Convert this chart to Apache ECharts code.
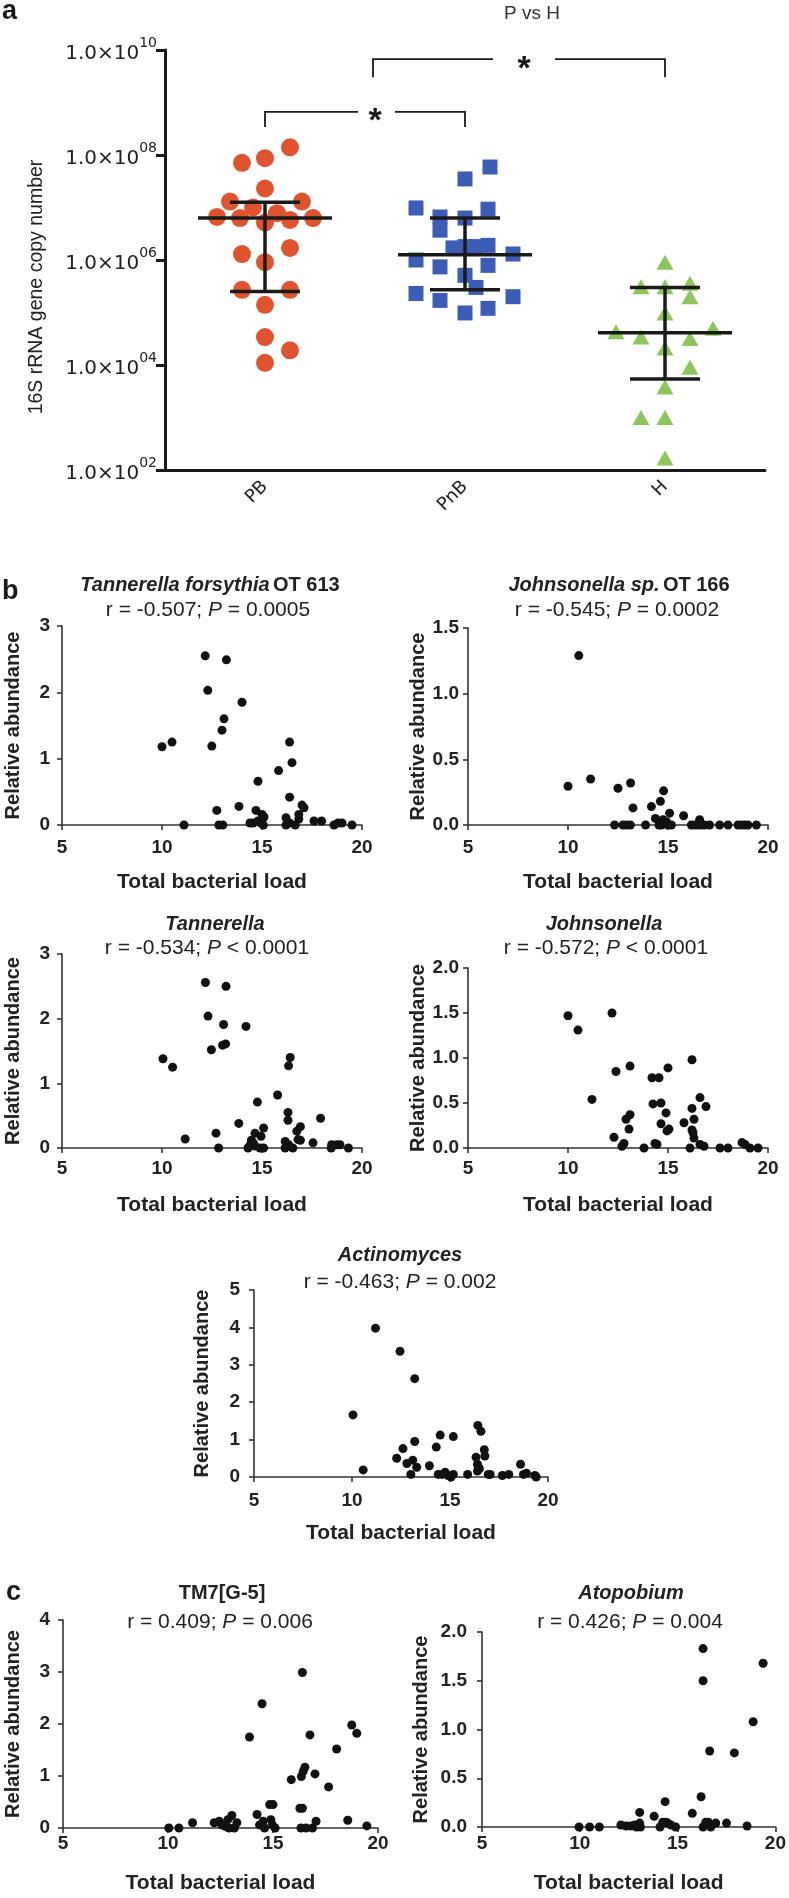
<!DOCTYPE html>
<html><head><meta charset="utf-8">
<script src="https://cdn.jsdelivr.net/npm/echarts@6/dist/echarts.min.js"></script>
<style>html,body{margin:0;padding:0;background:#fff}#c{width:789px;height:1898px}</style>
</head><body><div id="c"></div>
<script>
// ---------- Panel a data (x = position within category band, y = 16S copies) ----------
const groupNames = ['PB', 'PnB', 'H'];
const pbPoints = [[0.625,1.4e8],[0.5,8.7e7],[0.385,7.1e7],[0.5,2.3e7],[0.325,1.3e7],[0.685,1.3e7],[0.44,1.0e7],[0.26,6.6e6],[0.375,6.3e6],[0.5,5.2e6],[0.56,7.8e6],[0.625,5.8e6],[0.74,6.3e6],[0.385,1.3e6],[0.625,1.7e6],[0.5,9.1e5],[0.385,2.7e5],[0.625,2.7e5],[0.5,1.4e5],[0.5,3.4e4],[0.625,1.9e4],[0.5,1.1e4]];
const pnbPoints = [[1.625,5.9e7],[1.5,3.5e7],[1.255,9.8e6],[1.375,6.6e6],[1.5,6.3e6],[1.615,9.3e6],[1.375,3.7e6],[1.44,1.7e6],[1.5,1.8e6],[1.55,1.8e6],[1.615,1.9e6],[1.255,1.0e6],[1.375,7.4e5],[1.615,7.9e5],[1.74,1.3e6],[1.5,5.1e5],[1.555,3.0e5],[1.255,2.3e5],[1.375,1.7e5],[1.74,2.0e5],[1.5,9.8e4],[1.615,1.2e5]];
const hPoints = [[2.5,9.1e5],[2.38,3.1e5],[2.5,3.1e5],[2.625,3.6e5],[2.625,2.0e5],[2.5,9.8e4],[2.255,4.3e4],[2.38,3.4e4],[2.625,3.2e4],[2.74,5.0e4],[2.5,2.1e4],[2.625,9.1e3],[2.5,3.8e3],[2.38,1.0e3],[2.5,1.0e3],[2.5,1.7e2]];
const groupMedian = [6.3e6, 1.26e6, 4.1e4];
const groupQ1 = [2.5e5, 2.7e5, 5.4e3];
const groupQ3 = [1.26e7, 6.3e6, 3.0e5];
const yExponents = [2, 4, 6, 8, 10];
// [from, to, level, star position]
const comparisons = [[0.5, 1.5, 6.6e8, 1.05], [1.04, 2.5, 6.7e9, 1.795]];

// ---------- Panels b, c data: [total bacterial load, relative abundance] ----------
const tannerellaForsythia = [[10.0,1.18],[10.5,1.25],[11.1,0],[12.16,2.55],[12.29,2.03],[12.49,1.19],[12.74,0.22],[12.84,0],[13.04,0],[13.22,2.49],[13.1,1.60],[13.0,1.43],[14.0,1.85],[13.85,0.28],[14.7,0.22],[14.8,0.66],[14.4,0.03],[14.55,0.03],[14.8,0.06],[15.0,0.16],[15.1,0.12],[15.07,0],[14.95,0.03],[15.83,0.82],[16.38,1.25],[16.5,0.94],[16.38,0.42],[16.2,0.11],[16.38,0.03],[16.66,0],[16.2,0],[16.84,0.16],[17.0,0.30],[16.84,0.09],[17.1,0.26],[17.6,0.06],[17.98,0.06],[18.6,0],[18.8,0.03],[19.0,0.03],[19.5,0]];
const johnsonellaSp = [[10.0,0.295],[10.54,1.29],[11.13,0.35],[12.5,0.28],[13.13,0.32],[13.25,0.13],[14.17,0.14],[14.62,0.18],[14.78,0.26],[15.08,0.09],[15.78,0.07],[14.37,0.05],[14.75,0.04],[14.92,0.025],[16.58,0.04],[12.33,0],[12.75,0],[12.92,0],[13.12,0],[13.88,0],[14.55,0],[14.67,0],[15.0,0],[15.17,0],[16.17,0],[16.33,0],[16.5,0],[16.67,0],[16.83,0],[17.08,0],[17.58,0],[18.0,0],[18.5,0],[18.67,0],[18.83,0],[19.0,0],[19.42,0]];
const tannerella = [[10.05,1.38],[10.53,1.25],[11.16,0.14],[12.17,2.56],[12.3,2.04],[12.47,1.52],[12.7,0.23],[12.83,0],[13.08,1.91],[13.03,1.59],[13.18,1.61],[13.2,2.50],[14.2,1.88],[13.84,0.38],[14.77,0.71],[14.47,0.12],[14.57,0.08],[14.65,0.03],[14.4,0.04],[14.3,0],[14.65,0.23],[14.95,0.18],[15.08,0.31],[14.9,0],[15.08,0],[15.78,0.82],[16.41,1.40],[16.33,1.27],[16.3,0.55],[16.3,0.43],[16.16,0.1],[16.33,0.05],[16.54,0],[16.16,0],[16.74,0.26],[16.92,0.33],[16.8,0.13],[16.92,0.12],[17.55,0.08],[17.93,0.46],[18.48,0.05],[18.74,0.05],[18.9,0.05],[19.32,0],[18.46,0]];
const johnsonella = [[10.0,1.47],[10.5,1.31],[11.2,0.54],[12.2,1.50],[12.4,0.85],[12.3,0.12],[12.7,0.02],[12.8,0.05],[13.1,0.91],[12.9,0.32],[13.1,0.37],[13.05,0.21],[13.8,0],[14.2,0.78],[14.55,0.78],[14.25,0.49],[14.65,0.50],[14.35,0.05],[14.45,0.04],[14.65,0.27],[15.0,0.89],[14.9,0.39],[14.95,0.19],[15.05,0.21],[15.8,0.28],[16.2,0.98],[16.2,0.44],[16.3,0.32],[16.2,0.20],[16.25,0.17],[16.3,0.11],[16.1,0],[16.6,0.56],[16.9,0.46],[16.6,0.04],[16.8,0.02],[17.6,0],[18.0,0],[18.7,0.06],[18.85,0.04],[19.1,0],[19.5,0]];
const actinomyces = [[11.2,3.98],[12.45,3.36],[13.2,2.63],[10.05,1.66],[10.57,0.19],[12.28,0.50],[12.6,0.76],[13.2,0.95],[13.0,0.07],[12.8,0.36],[13.1,0.45],[13.3,0.26],[13.95,0.30],[14.3,0.80],[14.5,1.12],[15.17,1.08],[14.4,0.07],[14.6,0.07],[14.75,0.13],[14.9,0.04],[15.05,0],[15.17,0.07],[15.9,0.07],[16.33,0.53],[16.4,0.34],[16.45,0.26],[16.5,0.22],[16.4,0.16],[16.42,1.38],[16.58,1.22],[16.75,0.73],[16.78,0.56],[16.95,0.07],[17.05,0.07],[17.67,0.04],[18.0,0.07],[18.6,0.34],[18.75,0.07],[18.9,0.1],[19.33,0.04],[19.4,0]];
const tm7 = [[10.04,0],[10.52,0],[11.17,0.1],[12.2,0.1],[12.44,0.13],[12.56,0.06],[12.85,0.16],[12.73,0.03],[13.04,0.24],[13.16,0],[13.28,0.1],[12.9,0],[13.88,1.75],[14.24,0.26],[14.48,2.39],[14.36,0.06],[14.6,0],[14.53,0.13],[14.84,0.45],[15.0,0.45],[14.9,0.16],[15.1,0],[14.97,0.06],[15.87,0.93],[16.28,0.38],[16.4,0.38],[16.4,2.99],[16.35,0.99],[16.52,1.17],[16.44,1.09],[16.33,0],[16.57,0],[16.76,1.79],[17.0,1.04],[16.88,0],[17.05,0.13],[17.65,0.79],[18.03,1.52],[18.56,0.15],[18.75,1.98],[18.99,1.82],[19.47,0.04]];
const atopobium = [[9.96,0],[10.5,0],[11.0,0],[12.1,0.02],[12.37,0.01],[12.6,0.01],[12.8,0.02],[13.06,0.15],[13.06,0.04],[13.1,0],[12.9,0],[13.8,0.11],[14.36,0.26],[14.24,0.05],[14.4,0.05],[14.5,0.04],[14.66,0.02],[14.9,0],[14.1,0],[15.75,0.14],[16.2,0.31],[16.3,1.83],[16.3,1.50],[16.44,0.05],[16.57,0.05],[16.3,0],[16.7,0],[16.64,0.78],[16.95,0.04],[17.5,0.04],[17.9,0.76],[18.55,0.01],[18.86,1.08],[19.37,1.68]];

const FF = '"Liberation Sans", Arial, Helvetica, sans-serif';
const FW = '"DejaVu Sans", Verdana, sans-serif';
const INK = '#1a1a1a';
const grids = [], xAxes = [], yAxes = [], series = [], graphics = [];

// ---------- Panel a ----------
grids.push({left:165, top:50, width:600, height:420});
xAxes.push({type:'category', gridIndex:0, data:groupNames, boundaryGap:true,
  axisLine:{lineStyle:{color:INK, width:3}},
  axisTick:{alignWithLabel:true, length:8, lineStyle:{color:INK, width:3}},
  axisLabel:{rotate:45, margin:14, fontSize:18, color:'#222', fontFamily:FW}});
xAxes.push({type:'value', gridIndex:0, min:0, max:3, show:false});
yAxes.push({type:'value', gridIndex:0, min:yExponents[0], max:yExponents[yExponents.length-1], interval:2,
  axisLine:{show:true, lineStyle:{color:INK, width:3}},
  axisTick:{show:true, length:9, lineStyle:{color:INK, width:3}},
  splitLine:{show:false},
  axisLabel:{margin:8, formatter: v => '{m|1.0×10}{s|' + String(v).padStart(2,'0') + '}',
    rich:{m:{fontSize:20, fontFamily:FW, color:'#222', verticalAlign:'bottom', lineHeight:28},
          s:{fontSize:14, fontFamily:FW, color:'#222', verticalAlign:'top', lineHeight:28}}}});
const toLog = arr => arr.map(p => [p[0], Math.log10(p[1])]);
series.push({type:'scatter', xAxisIndex:1, yAxisIndex:0, data:toLog(pbPoints), symbol:'circle', symbolSize:18, itemStyle:{color:'#E0532F', opacity:1}, z:2});
series.push({type:'scatter', xAxisIndex:1, yAxisIndex:0, data:toLog(pnbPoints), symbol:'rect', symbolSize:15, itemStyle:{color:'#3B5DB6', opacity:1}, z:2});
series.push({type:'scatter', xAxisIndex:1, yAxisIndex:0, data:toLog(hPoints), symbol:'triangle', symbolSize:[17,15], itemStyle:{color:'#8DC65C', opacity:1}, z:2});
series.push({type:'custom', xAxisIndex:1, yAxisIndex:0, z:5, silent:true,
  data: groupMedian.map((m,i)=>[i+0.5, Math.log10(m), Math.log10(groupQ1[i]), Math.log10(groupQ3[i])]),
  renderItem(params, api){
    const x = api.value(0);
    const m = api.coord([x, api.value(1)]), lo = api.coord([x, api.value(2)]), hi = api.coord([x, api.value(3)]);
    const st = {stroke:INK, lineWidth:3.5};
    return {type:'group', children:[
      {type:'line', shape:{x1:m[0]-67, y1:m[1], x2:m[0]+67, y2:m[1]}, style:st},
      {type:'line', shape:{x1:lo[0], y1:lo[1], x2:hi[0], y2:hi[1]}, style:st},
      {type:'line', shape:{x1:lo[0]-35, y1:lo[1], x2:lo[0]+35, y2:lo[1]}, style:st},
      {type:'line', shape:{x1:hi[0]-35, y1:hi[1], x2:hi[0]+35, y2:hi[1]}, style:st}
    ]};
  }});
const bracketStyle = [{drop:15, gapL:17, gapR:20}, {drop:18, gapL:31, gapR:31}];
series.push({type:'custom', xAxisIndex:1, yAxisIndex:0, z:5, silent:true, clip:false,
  data: comparisons.map(c=>[c[0], c[1], Math.log10(c[2]), c[3]]),
  renderItem(params, api){
    const y = api.value(2);
    const a = api.coord([api.value(0), y]), b = api.coord([api.value(1), y]), s = api.coord([api.value(3), y]);
    const bs = bracketStyle[params.dataIndex];
    const st = {stroke:INK, lineWidth:1.8, fill:null};
    return {type:'group', children:[
      {type:'polyline', shape:{points:[[a[0], a[1]+bs.drop],[a[0], a[1]],[s[0]-bs.gapL, a[1]]]}, style:st},
      {type:'polyline', shape:{points:[[s[0]+bs.gapR, b[1]],[b[0], b[1]],[b[0], b[1]+bs.drop]]}, style:st},
      {type:'text', x:s[0], y:s[1]+10, style:{text:'*', font:'bold 34px '+FF, fill:INK, align:'center', verticalAlign:'middle', textAlign:'center', textVerticalAlign:'middle'}}
    ]};
  }});
graphics.push({type:'text', x:2, y:12, style:{text:'a', font:'bold 27px '+FF, fill:INK, verticalAlign:'middle'}});
graphics.push({type:'text', x:532, y:14, style:{text:'P vs H', font:'19px '+FF, fill:'#333', align:'center', verticalAlign:'middle'}});
graphics.push({type:'text', x:37, y:287, rotation:Math.PI/2, style:{text:'16S rRNA gene copy number', font:'19.5px '+FF, fill:'#222', align:'center', verticalAlign:'middle'}});

// ---------- Panels b, c ----------
function addScatter(c){
  const gi = grids.length;
  const xi = xAxes.length, yi = yAxes.length;
  grids.push({left:c.left, top:c.top, width:c.width, height:c.height});
  const axisLineStyle = {color:'#333', width:1.6};
  const labelStyle = {fontSize:19, fontWeight:'bold', fontFamily:FF, color:'#222'};
  const nameStyle = {fontSize:21, fontWeight:'bold', fontFamily:FF, color:'#222'};
  xAxes.push({type:'value', gridIndex:gi, min:5, max:20, interval:5, name:'Total bacterial load', nameLocation:'middle', nameGap:c.xNameGap, nameTextStyle:nameStyle,
    axisLine:{onZero:false, lineStyle:axisLineStyle}, axisTick:{length:5, lineStyle:axisLineStyle}, splitLine:{show:false},
    axisLabel:Object.assign({margin:c.xLabelMargin}, labelStyle)});
  yAxes.push({type:'value', gridIndex:gi, min:0, max:c.ymax, interval:c.yint, name:'Relative abundance', nameLocation:'middle', nameGap:c.yNameGap, nameRotate:90, nameTextStyle:Object.assign({}, nameStyle, {fontSize:20}),
    axisLine:{show:true, onZero:false, lineStyle:axisLineStyle}, axisTick:{show:true, length:5, lineStyle:axisLineStyle}, splitLine:{show:false},
    axisLabel:Object.assign({margin:c.yLabelMargin, formatter: v => v.toFixed(c.dec)}, labelStyle)});
  series.push({type:'scatter', xAxisIndex:xi, yAxisIndex:yi, data:c.data, symbol:'circle', symbolSize:9, itemStyle:{color:'#111', opacity:1}, z:3});
  graphics.push({type:'text', x:c.tx, y:c.ty, style:{text:c.title, rich:{
      i:{fontStyle:'italic', fontWeight:'bold', fontSize:20, fontFamily:FF, fill:'#222', color:'#222'},
      b:{fontWeight:'bold', fontSize:20, fontFamily:FF, fill:'#222', color:'#222'}},
    align:'center', verticalAlign:'middle'}});
  graphics.push({type:'text', x:c.rx, y:c.ry, style:{text:c.stat, rich:{
      n:{fontSize:21, fontFamily:FF, fill:'#222', color:'#222'},
      p:{fontStyle:'italic', fontSize:21, fontFamily:FF, fill:'#222', color:'#222'}},
    align:'center', verticalAlign:'middle'}});
}
addScatter({left:62, top:626, width:300, height:199, ymax:3, yint:1, dec:0, data:tannerellaForsythia,
  xNameGap:47, xLabelMargin:13, yNameGap:39, yLabelMargin:12,
  title:'{i|Tannerella forsythia} {b|OT 613}', tx:210, ty:585, stat:'{n|r = -0.507; }{p|P}{n| = 0.0005}', rx:208, ry:610});
addScatter({left:468, top:628, width:300, height:197, ymax:1.5, yint:0.5, dec:1, data:johnsonellaSp,
  xNameGap:47, xLabelMargin:13, yNameGap:36, yLabelMargin:9,
  title:'{i|Johnsonella sp.} {b|OT 166}', tx:619, ty:585, stat:'{n|r = -0.545; }{p|P}{n| = 0.0002}', rx:617, ry:610});
addScatter({left:62, top:954, width:300, height:194, ymax:3, yint:1, dec:0, data:tannerella,
  xNameGap:47, xLabelMargin:11, yNameGap:39, yLabelMargin:12,
  title:'{i|Tannerella}', tx:215, ty:924, stat:'{n|r = -0.534; }{p|P}{n| < 0.0001}', rx:207, ry:948});
addScatter({left:468, top:968, width:300, height:180, ymax:2, yint:0.5, dec:1, data:johnsonella,
  xNameGap:47, xLabelMargin:11, yNameGap:35, yLabelMargin:9,
  title:'{i|Johnsonella}', tx:604, ty:924, stat:'{n|r = -0.572; }{p|P}{n| < 0.0001}', rx:606, ry:948});
addScatter({left:254, top:1290, width:294, height:187, ymax:5, yint:1, dec:0, data:actinomyces,
  xNameGap:46, xLabelMargin:14, yNameGap:42, yLabelMargin:14,
  title:'{i|Actinomyces}', tx:400, ty:1255, stat:'{n|r = -0.463; }{p|P}{n| = 0.002}', rx:400, ry:1282});
addScatter({left:63, top:1620, width:315, height:208, ymax:4, yint:1, dec:0, data:tm7,
  xNameGap:45, xLabelMargin:6, yNameGap:40, yLabelMargin:13,
  title:'{b|TM7[G-5]}', tx:222, ty:1593, stat:'{n|r = 0.409; }{p|P}{n| = 0.006}', rx:220, ry:1622});
addScatter({left:482, top:1632, width:296, height:195, ymax:2, yint:0.5, dec:1, data:atopobium,
  xNameGap:46, xLabelMargin:7, yNameGap:51, yLabelMargin:15,
  title:'{i|Atopobium}', tx:631, ty:1593, stat:'{n|r = 0.426; }{p|P}{n| = 0.004}', rx:630, ry:1622});
graphics.push({type:'text', x:2, y:592, style:{text:'b', font:'bold 27px '+FF, fill:INK, verticalAlign:'middle'}});
graphics.push({type:'text', x:6, y:1593, style:{text:'c', font:'bold 27px '+FF, fill:INK, verticalAlign:'middle'}});

const chart = echarts.init(document.getElementById('c'), null, {renderer:'canvas', width:789, height:1898});
chart.setOption({
  animation:false, backgroundColor:'#fff',
  grid:grids, xAxis:xAxes, yAxis:yAxes, series:series, graphic:graphics
});
</script></body></html>
